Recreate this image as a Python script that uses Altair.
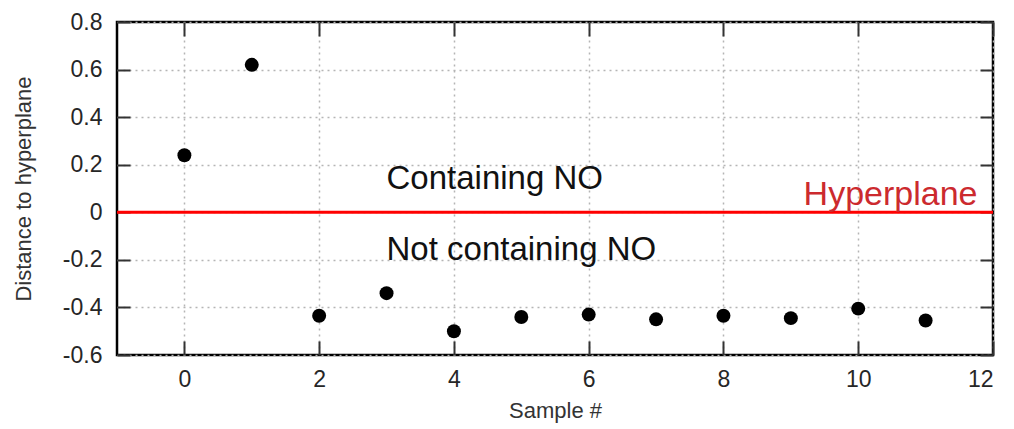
import altair as alt
import pandas as pd

# Data
samples = [0, 1, 2, 3, 4, 5, 6, 7, 8, 9, 10, 11]
distances = [0.24, 0.62, -0.435, -0.34, -0.50, -0.44, -0.43, -0.45, -0.435, -0.445, -0.405, -0.455]

note_text = ["Containing NO", "Not containing NO"]
note_x = [3, 3]
note_y = [0.10, -0.20]

hyper_text = ["Hyperplane"]
hyper_x = [11.77]
hyper_y = [0.03]

hyperplane_value = [0.0]

x_ticks = [0, 2, 4, 6, 8, 10, 12]
y_ticks = [-0.6, -0.4, -0.2, 0, 0.2, 0.4, 0.6, 0.8]

FONT = "Liberation Sans"

pts = pd.DataFrame({"sample": samples, "dist": distances})
notes = pd.DataFrame({"sample": note_x, "dist": note_y, "label": note_text})
hyper = pd.DataFrame({"sample": hyper_x, "dist": hyper_y, "label": hyper_text})
hp = pd.DataFrame({"dist": hyperplane_value})

xscale = alt.Scale(domain=[-1, 12], nice=False, zero=False)
yscale = alt.Scale(domain=[-0.6, 0.8], nice=False, zero=False)

grid_common = dict(
    grid=True, gridColor="#b5b5b5", gridDash=[2, 4], gridWidth=1.5,
    domain=False, ticks=True, tickColor="#333333", tickWidth=2,
    labelFont=FONT, labelFontSize=23, labelColor="#262626",
    titleFont=FONT, titleFontSize=22, titleColor="#333333", titleFontWeight="normal",
)

x_main = alt.Axis(orient="bottom", values=x_ticks, title="Sample #",
                  offset=-14, tickSize=14, labelPadding=13, titlePadding=9,
                  labelExpr="'' + datum.value", **grid_common)
y_main = alt.Axis(orient="left", values=y_ticks, title="Distance to hyperplane",
                  offset=-13, tickSize=13, labelPadding=15, titlePadding=27,
                  labelExpr="'' + datum.value", **grid_common)

x_mirror = alt.Axis(orient="top", values=x_ticks, title=None, labels=False,
                    grid=False, domain=False, offset=-14, tickSize=14,
                    tickColor="#333333", tickWidth=2)
y_mirror = alt.Axis(orient="right", values=y_ticks, title=None, labels=False,
                    grid=False, domain=False, offset=-13, tickSize=13,
                    tickColor="#333333", tickWidth=2)

points = alt.Chart(pts).mark_circle(size=195, color="black", opacity=1).encode(
    x=alt.X("sample:Q", scale=xscale, axis=x_main),
    y=alt.Y("dist:Q", scale=yscale, axis=y_main),
)

notes_layer = alt.Chart(notes).mark_text(
    align="left", baseline="alphabetic", font=FONT, fontSize=33, color="#111111"
).encode(
    x=alt.X("sample:Q", scale=xscale, axis=x_mirror),
    y=alt.Y("dist:Q", scale=yscale, axis=y_mirror),
    text="label:N",
)

hyper_layer = alt.Chart(hyper).mark_text(
    align="right", baseline="alphabetic", font=FONT, fontSize=34, color="#cc2a2e"
).encode(
    x=alt.X("sample:Q", scale=xscale, axis=None),
    y=alt.Y("dist:Q", scale=yscale, axis=None),
    text="label:N",
)

rule = alt.Chart(hp).mark_rule(color="#ff0000", strokeWidth=3).encode(
    y=alt.Y("dist:Q", scale=yscale, axis=None),
)

chart = alt.layer(rule, notes_layer, hyper_layer, points).resolve_axis(
    x="independent", y="independent"
).properties(
    width=876, height=333,
    autosize=alt.AutoSizeParams(type="none"),
    padding={"left": 117, "top": 22, "right": 21, "bottom": 74},
    background="white",
).configure_view(stroke="black", strokeWidth=2.5)

chart.save("out.html", embed_options={"renderer": "svg", "actions": False})
